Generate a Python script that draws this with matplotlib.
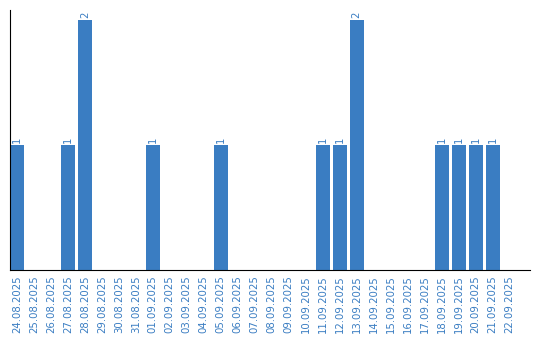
import matplotlib
matplotlib.use("Agg")
import matplotlib.pyplot as plt
import numpy as np

dates = ["24.08.2025","25.08.2025","26.08.2025","27.08.2025","28.08.2025","29.08.2025",
         "30.08.2025","31.08.2025","01.09.2025","02.09.2025","03.09.2025","04.09.2025",
         "05.09.2025","06.09.2025","07.09.2025","08.09.2025","09.09.2025","10.09.2025",
         "11.09.2025","12.09.2025","13.09.2025","14.09.2025","15.09.2025","16.09.2025",
         "17.09.2025","18.09.2025","19.09.2025","20.09.2025","21.09.2025","22.09.2025"]
values = [1,0,0,1,2,0,0,0,1,0,0,0,1,0,0,0,0,0,1,1,2,0,0,0,0,1,1,1,1,0]

color = "#3a7dc2"
fig = plt.figure(figsize=(5.4, 3.4), dpi=100)
ax = fig.add_axes([10/540, 70/340, 520/540, 260/340])
x = np.arange(len(dates))
ax.bar(x, values, width=0.82, color=color)
for xi, v in zip(x, values):
    if v > 0:
        ax.text(xi, v + 0.02, str(v), rotation=90, ha="center", va="bottom",
                color=color, fontsize=7.3)
ax.set_xlim(-0.41, 30.2)
ax.set_ylim(0, 2.08)
ax.set_xticks(x)
ax.set_xticklabels(dates, rotation=90, color=color, fontsize=7.3)
ax.tick_params(axis="x", length=0, pad=4)
ax.set_yticks([])
for s in ["top", "right"]:
    ax.spines[s].set_visible(False)
ax.spines["left"].set_color("black")
ax.spines["bottom"].set_color("black")
fig.savefig("out.png", dpi=100)
